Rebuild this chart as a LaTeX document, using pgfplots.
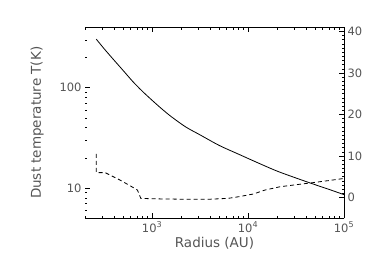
\documentclass[border=0pt]{standalone}
\usepackage{fontspec}
\setmainfont{DejaVu Sans}
\usepackage{pgfplots}
\pgfplotsset{compat=1.18}
\begin{document}
\begin{tikzpicture}
\definecolor{txt}{RGB}{85,85,85}
\path[use as bounding box] (-85pt,-54.7pt) rectangle (285pt,218.3pt);
\pgfplotsset{
  every axis/.append style={
    scale only axis, width=259pt, height=191pt,
    xmode=log, xmin=200, xmax=1e5,
    tick align=inside,
    major tick length=5pt, minor tick length=2.5pt,
    every tick/.style={black, line width=0.6pt},
    tick label style={font=\fontsize{11.5}{14}\selectfont, text=txt},
  }
}
% temperature, left log axis
\begin{axis}[
  ymode=log, ymin=5, ymax=400,
  axis x line*=box, axis y line*=left,
  x axis line style={-, line width=0.9pt},
  y axis line style={draw=none},
  xtick={1000,10000,100000},
  xticklabels={10\textsuperscript{3},10\textsuperscript{4},10\textsuperscript{5}},
  minor xtick={200,300,400,500,600,700,800,900,2000,3000,4000,5000,6000,7000,8000,9000,20000,30000,40000,50000,60000,70000,80000,90000},
  ytick={10,100}, yticklabels={10,100},
  minor ytick={5,6,7,8,9,20,30,40,50,60,70,80,90,200,300,400},
  xlabel={Radius (AU)}, ylabel={Dust temperature T(K)},
  every axis x label/.style={at={(axis description cs:0.5,-0.13)}, anchor=center,
    font=\fontsize{13.5}{16}\selectfont, text=txt},
  every axis y label/.style={at={(axis description cs:-0.185,0.5)}, anchor=center, rotate=90,
    font=\fontsize{13.5}{16}\selectfont, text=txt},
]
\addplot[black, line width=0.8pt, smooth] coordinates {
  (262,305) (316,245) (398,190) (501,148) (631,115) (794,92) (1000,75)
  (1259,61.7) (1585,51.5) (2239,40.7) (3162,33.9) (5012,26.6) (7943,21.8)
  (12589,17.9) (19953,14.8) (31623,12.6) (50119,10.8) (70795,9.66) (100000,8.6)
};
\end{axis}
% second quantity, right linear axis
\begin{axis}[
  ymin=-5, ymax=41,
  axis x line=none, axis y line*=right,
  y axis line style={-, line width=0.9pt},
  xtick=\empty, minor xtick={},
  ytick={0,10,20,30,40}, yticklabels={0,10,20,30,40},
  minor y tick num=9,
]
\addplot[black, line width=0.8pt, dash pattern=on 4pt off 3pt] coordinates {
  (262,10.5) (262,6.0) (324,6.0) (464,4.2) (615,2.6) (704,1.8) (763,-0.2)
  (1000,-0.3) (2000,-0.4) (4000,-0.4) (6200,-0.2) (8000,0.2) (11350,0.85)
  (15000,1.8) (21550,2.6) (32000,3.1) (47900,3.6) (70000,4.1) (100000,4.6)
};
\end{axis}
\end{tikzpicture}
\end{document}
